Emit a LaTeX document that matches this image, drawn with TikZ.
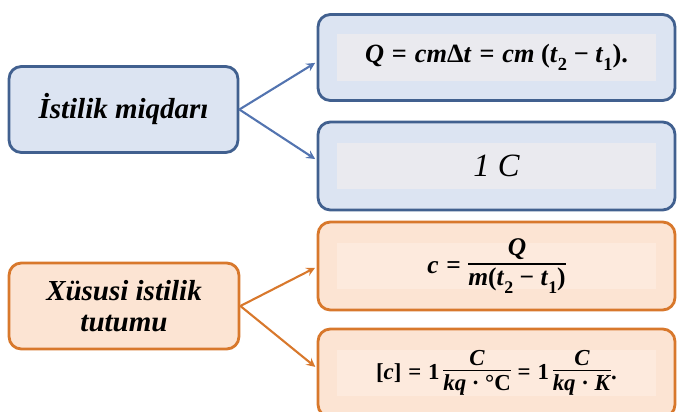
\documentclass[tikz,border=0pt]{standalone}
\usepackage{fontspec}
\setmainfont{Liberation Serif}
\usepackage{xcolor}
\usetikzlibrary{positioning}

\definecolor{bluedge}{HTML}{41608F}
\definecolor{bluefill}{HTML}{DCE4F2}
\definecolor{blueinner}{HTML}{EAEAEF}
\definecolor{bluearrow}{HTML}{5374B0}
\definecolor{orangedge}{HTML}{D8782C}
\definecolor{orangefill}{HTML}{FCE4D3}
\definecolor{orangeinner}{HTML}{FDEADD}

% formula helpers (text only)
\newcommand{\vr}[1]{\textit{#1}}
\newcommand{\sub}[1]{\raisebox{-0.3em}{\scalebox{0.7}{#1}}}
\newcommand{\eq}{\hspace{0.3em}=\hspace{0.3em}}
\newcommand{\fr}[2]{\raisebox{\dimexpr-0.5\height+0.5\depth+0.3em\relax}{\vbox{\halign{\hfil##\hfil\cr #1\cr\noalign{\kern2pt\hrule height 0.8pt\kern2pt}#2\cr}}}}

\begin{document}
\begin{tikzpicture}[x=0.02cm, y=-0.02cm,
    box/.style={line width=1.6pt, rounded corners=7pt, minimum height=1.72cm},
    bluebox/.style={box, draw=bluedge, fill=bluefill},
    orangebox/.style={box, draw=orangedge, fill=orangefill},
    label/.style={font=\fontsize{16.5}{19}\selectfont\bfseries\itshape, align=center},
    wide/.style={minimum width=7.14cm, path picture={
        \fill[#1, sharp corners] ([xshift=-3.2cm,yshift=-0.47cm]path picture bounding box.center)
            rectangle ([xshift=3.2cm,yshift=0.47cm]path picture bounding box.center);}},
    arr/.style={->, >=stealth, line width=1.2pt, shorten >=1pt}]
    \useasboundingbox (0,0) rectangle (677,412);
    % left boxes
    \node[bluebox, label, minimum width=4.58cm] (istilik) at (123.5,109.5) {İstilik miqdarı};
    \node[orangebox, label, minimum width=4.6cm] (xususi) at (124,306) {Xüsusi istilik\\[-1pt]tutumu};
    % right boxes
    \node[bluebox, wide=blueinner] (formQ) at (496.5,57.5)
        {\fontsize{15}{17}\selectfont\bfseries \vr{Q}\eq\vr{cm}Δ\vr{t}\eq\vr{cm} (\vr{t}\sub{2} − \vr{t}\sub{1}).};
    \node[bluebox, wide=blueinner, minimum height=1.76cm] (unitC) at (496.5,166)
        {\fontsize{18.5}{22}\selectfont\itshape 1 C};
    \node[orangebox, wide=orangeinner, minimum height=1.76cm] (formc) at (496.5,266)
        {\fontsize{14.5}{17}\selectfont\bfseries \vr{c}\eq\fr{\vr{Q}}{\vr{m}(\vr{t}\sub{2} − \vr{t}\sub{1})}};
    \node[orangebox, wide=orangeinner, minimum height=1.76cm] (unitc) at (496.5,373)
        {\fontsize{13}{15}\selectfont\bfseries [\vr{c}]\eq1\,\fr{\vr{C}}{\vr{kq} · °C}\eq1\,\fr{\vr{C}}{\vr{kq} · \vr{K}}.};
    % arrows
    \foreach \tname/\dy in {formQ/-4.5,unitC/6} { \draw[arr, bluearrow] (istilik.east) -- ([yshift=\dy*0.02cm]\tname.west); }
    \foreach \tname/\dy in {formc/-1,unitc/5} { \draw[arr, orangedge] (xususi.east) -- ([yshift=\dy*0.02cm]\tname.west); }
\end{tikzpicture}
\end{document}
